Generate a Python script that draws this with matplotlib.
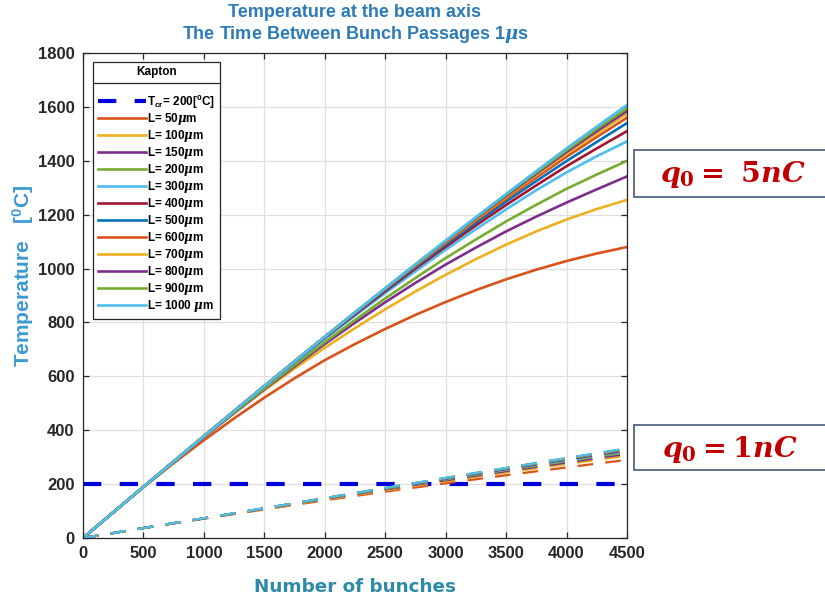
import matplotlib
matplotlib.use("Agg")
import matplotlib.pyplot as plt
from matplotlib.lines import Line2D
from matplotlib.patches import Rectangle

plt.rcParams['font.family'] = ['Liberation Sans', 'DejaVu Sans']
plt.rcParams['mathtext.fontset'] = 'custom'
plt.rcParams['mathtext.it'] = 'DejaVu Serif:italic:bold'
plt.rcParams['mathtext.rm'] = 'DejaVu Serif:bold'
plt.rcParams['mathtext.bf'] = 'DejaVu Serif:bold'

# number of bunches (fine step for the 5 nC curves, coarse for 1 nC)
bunches_fine = [0, 250, 500, 750, 1000, 1250, 1500, 1750, 2000, 2250, 2500,
                2750, 3000, 3250, 3500, 3750, 4000, 4250, 4500]
bunches = [0, 500, 1000, 1500, 2000, 2500, 3000, 3500, 4000, 4500]

thickness = [50, 100, 150, 200, 300, 400, 500, 600, 700, 800, 900, 1000]

# beam axis temperature, q0 = 5 nC
temp_5nC = [
    [0, 96, 189, 278, 363, 444, 521, 593, 660, 720, 776, 828, 876, 920, 960, 996, 1028, 1056, 1080],
    [0, 96, 191, 284, 375, 463, 548, 629, 706, 779, 849, 915, 977, 1035, 1089, 1138, 1182, 1221, 1255],
    [0, 95, 189, 282, 374, 464, 552, 637, 720, 799, 875, 947, 1015, 1078, 1138, 1193, 1245, 1294, 1342],
    [0, 95, 189, 282, 375, 466, 555, 642, 727, 809, 889, 965, 1039, 1108, 1175, 1237, 1296, 1349, 1400],
    [0, 95, 190, 284, 377, 470, 561, 651, 739, 825, 909, 990, 1070, 1146, 1220, 1291, 1357, 1417, 1472],
    [0, 95, 190, 284, 378, 471, 563, 654, 743, 830, 916, 1000, 1081, 1160, 1236, 1309, 1380, 1446, 1510],
    [0, 95, 190, 284, 378, 471, 564, 655, 745, 834, 921, 1006, 1089, 1170, 1249, 1325, 1399, 1470, 1540],
    [0, 95, 190, 284, 378, 471, 564, 656, 746, 836, 924, 1010, 1095, 1178, 1259, 1338, 1415, 1488, 1560],
    [0, 95, 190, 284, 378, 471, 564, 656, 747, 837, 926, 1013, 1099, 1183, 1266, 1347, 1426, 1501, 1575],
    [0, 95, 190, 284, 378, 471, 564, 656, 747, 837, 926, 1014, 1101, 1186, 1270, 1352, 1433, 1510, 1585],
    [0, 95, 190, 284, 378, 471, 564, 656, 747, 837, 927, 1015, 1103, 1189, 1274, 1357, 1439, 1518, 1595],
    [0, 95, 190, 284, 378, 471, 564, 656, 747, 837, 927, 1016, 1104, 1191, 1277, 1362, 1446, 1527, 1607],
]

# beam axis temperature, q0 = 1 nC
temp_1nC = [
    [0, 37, 72, 106, 140, 172, 203, 233, 262, 290],
    [0, 37, 73, 108, 143, 177, 210, 243, 274, 305],
    [0, 37, 73, 109, 145, 180, 214, 248, 280, 312],
    [0, 37, 73, 109, 146, 182, 217, 252, 285, 318],
    [0, 37, 73, 110, 146, 183, 219, 254, 288, 322],
    [0, 37, 73, 110, 147, 184, 220, 256, 291, 325],
    [0, 37, 73, 110, 147, 184, 221, 257, 292, 327],
    [0, 37, 73, 110, 147, 185, 222, 258, 294, 329],
    [0, 37, 73, 110, 148, 185, 222, 259, 295, 330],
    [0, 37, 73, 110, 148, 185, 222, 259, 296, 331],
    [0, 37, 73, 110, 148, 185, 223, 260, 296, 332],
    [0, 37, 74, 111, 148, 186, 223, 260, 297, 333],
]

t_critical = 200

# matlab default colour order, starting from the second colour
colors = ['#D95319', '#EDB120', '#7E2F8E', '#77AC30', '#4DBEEE', '#A2142F',
          '#0072BD']

fig = plt.figure(figsize=(8.25, 5.99), dpi=100)
ax = fig.add_axes([0.1006, 0.1018, 0.6594, 0.8097])

ax.plot([bunches[0], bunches[-1]], [t_critical, t_critical], color='#0000D8',
        lw=3.0, dashes=(4.4, 4.4),
        label=r'T$_{\mathregular{cr}}$= 200[$^{\mathregular{0}}$C]')

for i, L in enumerate(thickness):
    c = colors[i % len(colors)]
    if L < 1000:
        lab = r'L= %d$\mu$m' % L
    else:
        lab = r'L= %d $\mu$m' % L
    ax.plot(bunches_fine, temp_5nC[i], color=c, lw=1.9, label=lab)
for i, L in enumerate(thickness):
    c = colors[i % len(colors)]
    ax.plot(bunches, temp_1nC[i], color=c, lw=1.6, dashes=(7, 5.5))

ax.set_xlim(0, 4500)
ax.set_ylim(0, 1800)
ax.set_xticks(range(0, 4501, 500))
ax.set_yticks(range(0, 1801, 200))
ax.grid(True, color='#DFDFDF', lw=0.9)
ax.set_axisbelow(True)
for s in ax.spines.values():
    s.set_color('#262626')
    s.set_linewidth(0.9)
ax.tick_params(direction='in', length=4, width=0.9, colors='#262626',
               top=True, right=True, labelsize=12, pad=6)
for lab in ax.get_xticklabels() + ax.get_yticklabels():
    lab.set_fontweight('bold')

ax.set_title('Temperature at the beam axis\nThe Time Between Bunch Passages 1$\\mu$s',
             color='#2C7BB6', fontsize=13, fontweight='bold', pad=10,
             linespacing=1.2)
ax.set_xlabel('Number of bunches', color='#2E8BA8', fontsize=13.2,
              fontweight='bold', family='DejaVu Sans', labelpad=12)
ax.set_ylabel(r'Temperature   [$^{\mathregular{0}}$C]', color='#3D9AD3',
              fontsize=15, fontweight='bold')
ax.yaxis.set_label_coords(-0.086, 0.54)

leg = ax.legend(loc='upper left', bbox_to_anchor=(0.018, 0.982), title='Kapton',
                prop={'weight': 'bold', 'size': 8.5},
                title_fontproperties={'weight': 'bold', 'size': 8.5},
                handlelength=4.1, handletextpad=0.1, labelspacing=0.08,
                borderaxespad=0, fancybox=False, framealpha=1,
                edgecolor='#262626', borderpad=0.4)
leg.get_frame().set_linewidth(0.9)
leg._legend_box.sep = 10

# separator line under the legend title
fig.canvas.draw()
lb = leg.get_window_extent()
tb = leg.get_title().get_window_extent()
ysep = tb.y0 - 5
fig.add_artist(Line2D([lb.x0, lb.x1], [ysep, ysep], transform=None,
                      color='#262626', lw=0.9))

# charge labels at the right, boxes run off the figure edge
for y0, h in [(0.671, 0.0785), (0.2154, 0.0751)]:
    fig.add_artist(Rectangle((0.769, y0), 0.3, h, transform=fig.transFigure,
                             fc='white', ec='#44587A', lw=1.2, clip_on=False))
fig.text(0.80, 0.708, r'$q_0 =\ 5nC$', color='#C00000', fontsize=20.5,
         va='center', ha='left')
fig.text(0.802, 0.2504, r'$q_0 = 1nC$', color='#C00000', fontsize=20.5,
         va='center', ha='left')

fig.savefig('out.png', dpi=100)
